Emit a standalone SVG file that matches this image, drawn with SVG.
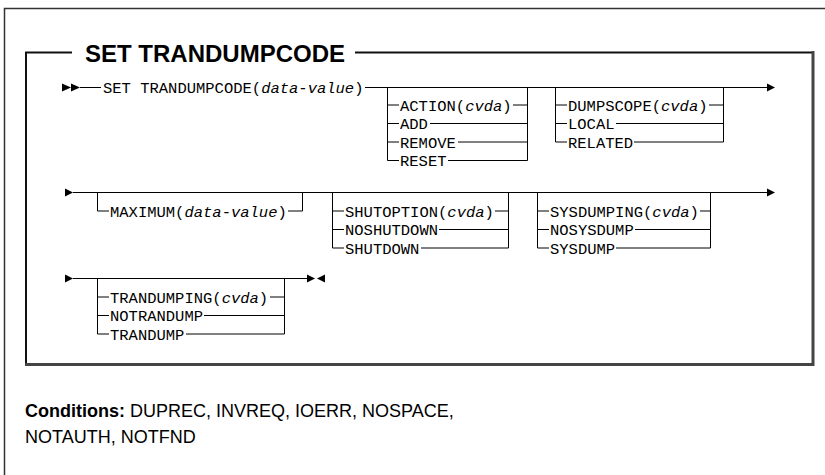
<svg xmlns="http://www.w3.org/2000/svg" width="825" height="475" viewBox="0 0 825 475">
<defs>
<style>
.t{font-family:"Liberation Mono","DejaVu Sans Mono",monospace;font-size:15.5px;fill:#000}
.i{font-style:italic}
.ln{stroke:#000;stroke-width:1;fill:none}
.ar{fill:#000}
.title{font-family:"Liberation Sans",Arial,sans-serif;font-weight:bold;font-size:24px;fill:#000}
.cond{font-family:"Liberation Sans",Arial,sans-serif;font-size:18px;fill:#000}
</style>
</defs>
<rect width="825" height="475" fill="#fff"/>
<g id="frame">
<path d="M4.5 475V8.5H825" stroke="#333" stroke-width="1.5" fill="none"/>
<path d="M26 364V52.5H72M355 52.5H813" stroke="#111" stroke-width="2" fill="none"/>
<path d="M813 51V364.5H25" stroke="#444" stroke-width="3" fill="none"/>
<text class="title" x="85" y="62">SET TRANDUMPCODE</text>
</g>
<g id="connectors">
<path class="ar" d="M62 83.5L71 87.5L62 91.5ZM71 83.5L80 87.5L71 91.5Z"/>
<path class="ln" d="M80 87.5H101M365 87.5H767"/>
<path class="ar" d="M767 83.5L775 87.5L767 91.5Z"/>
<path class="ln" d="M387.5 87.5V160.5H399M527.5 87.5V160.5H448"/>
<path class="ln" d="M387.5 105H399M513 105H527.5M387.5 123.5H399M430 123.5H527.5M387.5 142H399M458 142H527.5"/>
<path class="ln" d="M555.5 87.5V142H567M723.5 87.5V142H634"/>
<path class="ln" d="M555.5 105H567M709 105H723.5M555.5 123.5H567M616 123.5H723.5"/>
<path class="ar" d="M65 188.5L73 192.5L65 196.5Z"/>
<path class="ln" d="M73 192.5H767"/>
<path class="ar" d="M767 188.5L775 192.5L767 196.5Z"/>
<path class="ln" d="M97.5 192.5V211H109M302.5 192.5V211H288"/>
<path class="ln" d="M332.5 192.5V248H344M508.5 192.5V248H421"/>
<path class="ln" d="M332.5 211H344M495 211H508.5M332.5 229.5H344M439 229.5H508.5"/>
<path class="ln" d="M537.5 192.5V248H549M710.5 192.5V248H616"/>
<path class="ln" d="M537.5 211H549M700 211H710.5M537.5 229.5H549M635 229.5H710.5"/>
<path class="ar" d="M65 274.5L73 278.5L65 282.5Z"/>
<path class="ln" d="M73 278.5H308"/>
<path class="ar" d="M307 274.5L315 278.5L307 282.5ZM325 274.5L317 278.5L325 282.5Z"/>
<path class="ln" d="M97.5 278.5V334H109M284.5 278.5V334H186"/>
<path class="ln" d="M97.5 297H109M270 297H284.5M97.5 315.5H109M204 315.5H284.5"/>
</g>
<g id="cmd">
<text class="t" x="103" y="93">SET TRANDUMPCODE(<tspan class="i">data-value</tspan>)</text>
</g>
<g id="action">
<text class="t" x="400" y="110.5">ACTION(<tspan class="i">cvda</tspan>)</text>
<text class="t" x="400" y="129">ADD</text>
<text class="t" x="400" y="147.5">REMOVE</text>
<text class="t" x="400" y="166">RESET</text>
</g>
<g id="dumpscope">
<text class="t" x="568" y="110.5">DUMPSCOPE(<tspan class="i">cvda</tspan>)</text>
<text class="t" x="568" y="129">LOCAL</text>
<text class="t" x="568" y="147.5">RELATED</text>
</g>
<g id="maximum">
<text class="t" x="110" y="216.5">MAXIMUM(<tspan class="i">data-value</tspan>)</text>
</g>
<g id="shutoption">
<text class="t" x="345" y="216.5">SHUTOPTION(<tspan class="i">cvda</tspan>)</text>
<text class="t" x="345" y="235">NOSHUTDOWN</text>
<text class="t" x="345" y="253.5">SHUTDOWN</text>
</g>
<g id="sysdumping">
<text class="t" x="550" y="216.5">SYSDUMPING(<tspan class="i">cvda</tspan>)</text>
<text class="t" x="550" y="235">NOSYSDUMP</text>
<text class="t" x="550" y="253.5">SYSDUMP</text>
</g>
<g id="trandumping">
<text class="t" x="110" y="302.5">TRANDUMPING(<tspan class="i">cvda</tspan>)</text>
<text class="t" x="110" y="321">NOTRANDUMP</text>
<text class="t" x="110" y="339.5">TRANDUMP</text>
</g>
<g id="conditions">
<text class="cond" x="25" y="417"><tspan font-weight="bold">Conditions:</tspan> DUPREC, INVREQ, IOERR, NOSPACE,</text>
<text class="cond" x="25" y="443">NOTAUTH, NOTFND</text>
</g>
</svg>
